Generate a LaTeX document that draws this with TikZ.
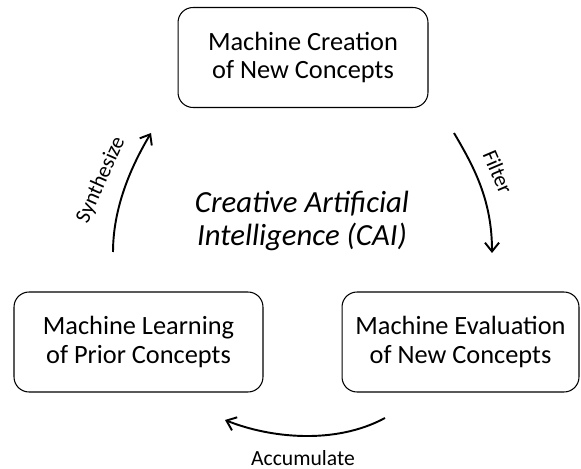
\documentclass[tikz,border=0pt]{standalone}
\usepackage{fontspec}
\setmainfont{Carlito}
\usetikzlibrary{arrows.meta}
\begin{document}
\begin{tikzpicture}[x=0.02cm, y=-0.02cm,
        concept/.style={draw, rounded corners=0.3cm, line width=0.6pt, align=center,
            minimum height=2cm, font=\fontsize{15}{16}\selectfont},
        turn/.style={line width=1.1pt, -{Straight Barb[length=5pt, width=8pt]}},
        verb/.style={font=\fontsize{12.3}{14}\selectfont}]
        \useasboundingbox (0,0) rectangle (581,469);
        % the three stages
        \node[concept, minimum width=5cm] (creation) at (303,57.5) {Machine Creation\\of New Concepts};
        \node[concept, minimum width=4.98cm] (learning) at (138.5,342) {Machine Learning\\of Prior Concepts};
        \node[concept, minimum width=4.74cm] (evaluation) at (460.5,342) {Machine Evaluation\\of New Concepts};
        \node[font=\fontsize{17.5}{19}\selectfont\itshape, align=center] (cai) at (302,221) {Creative Artificial\\Intelligence (CAI)};
        % arrow ends
        \coordinate (synth from) at (113,252);
        \coordinate (synth to) at (151,133);
        \coordinate (filter from) at (454,133);
        \coordinate (filter to) at (492,253);
        \coordinate (accum from) at (385,418);
        \coordinate (accum to) at (225,420);
        \draw[turn] (synth from) .. controls (113,200) and (138,155) .. (synth to);
        \draw[turn] (filter from) .. controls (474,167) and (492,200) .. (filter to);
        \draw[turn] (accum from) .. controls (335,445) and (270,438) .. (accum to);
        \node[verb, rotate=66] (synthesize) at (101,180) {Synthesize};
        \node[verb, rotate=-67] (filter) at (498,172) {Filter};
        \node[verb] (accumulate) at (303,458) {Accumulate};
\end{tikzpicture}
\end{document}
